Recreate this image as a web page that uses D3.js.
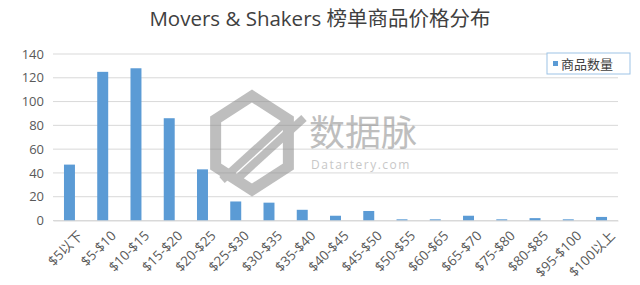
<!DOCTYPE html>
<html>
<head>
<meta charset="utf-8">
<script src="https://cdn.jsdelivr.net/npm/d3@7"></script>
<style>
  body { margin: 0; background: #fff; }
  svg text { font-family: "Open Sans", "Noto Sans CJK SC", sans-serif; }
</style>
</head>
<body>
<div id="chart"></div>
<script>
// datos del gráfico
var categorias = ["$5以下", "$5-$10", "$10-$15", "$15-$20", "$20-$25", "$25-$30", "$30-$35", "$35-$40",
  "$40-$45", "$45-$50", "$50-$55", "$60-$65", "$65-$70", "$75-$80", "$80-$85", "$95-$100", "$100以上"];
var cantidades = [47, 125, 128, 86, 43, 16, 15, 9, 4, 8, 1, 1, 4, 1, 2, 1, 3];
var ticksY = [0, 20, 40, 60, 80, 100, 120, 140];
var titulo = "Movers & Shakers 榜单商品价格分布";
var nombreSerie = "商品数量";

var W = 640, H = 285;
var margin = {top: 54, right: 22, bottom: 64.5, left: 53};
var width = W - margin.left - margin.right;
var height = H - margin.top - margin.bottom;

var svg = d3.select("#chart").append("svg")
  .attr("width", W)
  .attr("height", H);

// Título
svg.append("text")
  .attr("x", W / 2)
  .attr("y", 26)
  .attr("text-anchor", "middle")
  .style("font-size", "20.5px")
  .style("fill", "#404040")
  .text(titulo);

var g = svg.append("g")
  .attr("transform", "translate(" + margin.left + "," + margin.top + ")");

var x = d3.scaleBand()
  .domain(categorias)
  .range([0, width])
  .paddingInner(0.67)
  .paddingOuter(0.33);

var y = d3.scaleLinear()
  .domain([0, 140])
  .range([height, 0]);

// líneas de cuadrícula
g.selectAll(".grid").data(ticksY).enter().append("line")
  .attr("class", "grid")
  .attr("x1", 0)
  .attr("x2", width)
  .attr("y1", d => y(d))
  .attr("y2", d => y(d))
  .attr("stroke", "#d9d9d9")
  .attr("stroke-width", 1);

// eje Y
var yAxisG = g.append("g")
  .call(d3.axisLeft(y).tickValues(ticksY).tickSize(0).tickPadding(9));
yAxisG.select(".domain").remove();
yAxisG.selectAll("text")
  .style("font-size", "13px")
  .style("fill", "#595959");

// marca de agua
var wm = svg.append("g").attr("opacity", 0.55);
var hex = d3.range(6).map(function(i) {
  var a = Math.PI / 3 * i - Math.PI / 2;
  return [252 + 42 * Math.cos(a), 143 + 47 * Math.sin(a)];
});
wm.append("polygon")
  .attr("points", hex.map(p => p.join(",")).join(" "))
  .attr("fill", "none")
  .attr("stroke", "#8a8a8a")
  .attr("stroke-width", 11)
  .attr("stroke-linejoin", "miter");
[0, 14].forEach(function(o) {
  wm.append("line")
    .attr("x1", 222 + o).attr("y1", 180)
    .attr("x2", 290 + o).attr("y2", 118)
    .attr("stroke", "#8a8a8a")
    .attr("stroke-width", 8);
});
wm.append("text")
  .attr("x", 309)
  .attr("y", 146)
  .style("font-size", "36px")
  .style("fill", "#8a8a8a")
  .text("数据脉");
wm.append("text")
  .attr("x", 311)
  .attr("y", 169)
  .style("font-size", "12px")
  .style("letter-spacing", "1.5px")
  .style("fill", "#9a9a9a")
  .text("Datartery.com");

// barras
g.selectAll(".barra").data(cantidades).enter().append("rect")
  .attr("class", "barra")
  .attr("x", (d, i) => x(categorias[i]))
  .attr("y", d => y(d))
  .attr("width", x.bandwidth())
  .attr("height", d => height - y(d))
  .attr("fill", "#5b9bd5");

// eje X
var xAxisG = g.append("g")
  .attr("transform", "translate(0," + height + ")")
  .call(d3.axisBottom(x).tickSize(0).tickPadding(8));
xAxisG.select(".domain").attr("stroke", "#d9d9d9");
xAxisG.selectAll("text")
  .style("font-size", "13.5px")
  .style("fill", "#595959")
  .attr("text-anchor", "end")
  .attr("dx", "-0.1em")
  .attr("dy", "1.0em")
  .attr("transform", "rotate(-45)");

// leyenda
var legend = svg.append("g")
  .attr("transform", "translate(547,53)");
legend.append("rect")
  .attr("width", 83)
  .attr("height", 21)
  .attr("fill", "#fff")
  .attr("stroke", "#9dc3e6")
  .attr("stroke-width", 1);
legend.append("rect")
  .attr("x", 6)
  .attr("y", 8)
  .attr("width", 5)
  .attr("height", 5)
  .attr("fill", "#5b9bd5");
legend.append("text")
  .attr("x", 14)
  .attr("y", 15.5)
  .style("font-size", "13px")
  .style("fill", "#404040")
  .text(nombreSerie);
</script>
</body>
</html>
